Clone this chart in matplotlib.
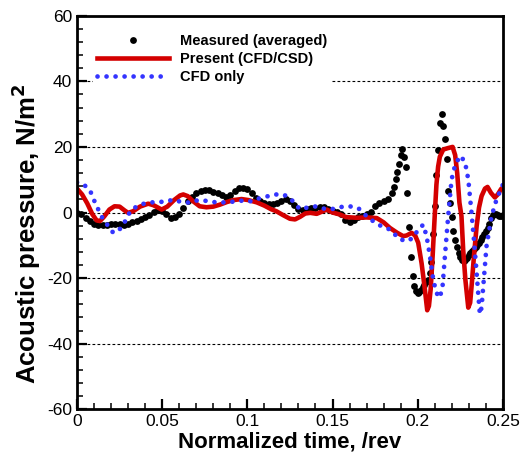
import numpy as np
import matplotlib
matplotlib.use("Agg")
import matplotlib.pyplot as plt
from matplotlib.ticker import MultipleLocator, FormatStrFormatter

plt.rcParams['font.family'] = ['Liberation Sans', 'DejaVu Sans']
plt.rcParams['axes.unicode_minus'] = False

# measured (averaged) - coarse step first, finer step where it swings fast
meas_t = list(np.round(np.arange(0, 0.1826, 0.0025), 4)) + list(np.round(np.arange(0.185, 0.2501, 0.001), 3))
meas_p = [0.0, -0.6, -1.6, -2.7, -3.4, -3.8, -3.8, -3.7, -3.5, -3.4,
          -3.6, -3.7, -3.5, -3.0, -2.5, -2.0, -1.4, -0.7, 0.2, 0.9,
          0.6, -0.6, -1.6, -1.3, -0.4, 1.5, 3.5, 4.8, 5.8, 6.5,
          6.9, 6.9, 6.3, 5.8, 5.2, 4.8, 5.3, 6.5, 7.4, 7.5,
          7.1, 6.0, 4.5, 3.4, 2.9, 2.7, 2.6, 3.0, 3.6, 4.0,
          3.4, 2.2, 1.2, 0.9, 1.0, 1.3, 1.5, 1.8, 1.8, 1.2,
          0.5, 0.3, -0.6, -2.2, -2.8, -2.3, -1.4, -1.0, -0.5, 0.3,
          2.0, 2.8, 3.4, 4.2,
          5.8, 7.8, 10.2, 12.5, 14.8, 17.5, 19.5, 17.0, 14.0, 6.0,
          -4.5, -13.5, -19.5, -22.5, -24.0, -24.5, -24.3, -23.5, -22.6, -22.0,
          -21.3, -20.6, -18.5, -15.0, -6.5, 2.0, 11.5, 19.0, 27.3, 29.9,
          26.3, 22.3, 16.2, 6.5, 3.0, -1.5, -5.5, -8.3, -10.6, -12.2,
          -13.5, -14.4, -14.8, -14.5, -13.8, -13.1, -12.3, -11.6, -11.0, -10.5,
          -10.0, -9.4, -8.4, -7.5, -6.6, -5.6, -4.6, -3.5, -1.8, -0.9,
          -0.6, -0.6, -0.8, -1.0, -1.1, -0.8]

# present (CFD/CSD)
cfdcsd_t = [0.0, 0.003, 0.006, 0.009, 0.0115, 0.0135, 0.016, 0.019, 0.022, 0.025,
            0.028, 0.030, 0.033, 0.037, 0.0418, 0.045, 0.0497, 0.053, 0.057, 0.0605,
            0.0624, 0.065, 0.068, 0.072, 0.076, 0.080, 0.0839, 0.088, 0.092, 0.0966,
            0.1005, 0.1055, 0.110, 0.114, 0.117, 0.121, 0.125, 0.128, 0.131, 0.134,
            0.137, 0.1407, 0.1435, 0.1466, 0.150, 0.1543, 0.158, 0.164, 0.170, 0.176,
            0.180, 0.1837, 0.188, 0.1915, 0.1935, 0.1964, 0.1985, 0.2003, 0.2023, 0.2040,
            0.2056, 0.2066, 0.2076, 0.2088, 0.2100, 0.2110, 0.2120, 0.2130, 0.2150, 0.2175,
            0.2205, 0.2220, 0.2232, 0.2245, 0.2257, 0.2267, 0.2280, 0.2297, 0.2308, 0.2318,
            0.2330, 0.2346, 0.2360, 0.2375, 0.2395, 0.2410, 0.2430, 0.2453, 0.2470, 0.2490,
            0.2500]
cfdcsd_p = [7.3, 5.5, 2.8, -0.5, -2.4, -2.6, -1.2, 0.9, 1.9, 1.8,
            0.6, -0.1, 0.4, 1.8, 2.7, 2.2, 0.9, 1.8, 3.8, 5.2,
            5.5, 5.0, 3.5, 1.9, 1.6, 1.8, 2.4, 3.2, 3.8, 4.1,
            3.8, 3.1, 2.1, 1.0, 0.4, -0.8, -1.9, -2.1, -1.3, -0.3,
            -0.1, -0.4, 0.2, 0.9, 0.0, -0.6, -1.4, -1.6, -1.5, -1.7,
            -3.0, -4.7, -6.2, -7.2, -7.0, -6.2, -7.0, -9.2, -15.5, -22.5,
            -29.8, -28.5, -23.5, -13.0, -1.0, 8.5, 14.0, 17.0, 19.2, 19.6,
            20.0, 17.5, 12.0, 3.0, -1.1, -11.3, -20.5, -29.0, -27.5, -21.5,
            -13.5, -4.2, 1.5, 5.0, 7.3, 7.8, 6.0, 4.6, 5.5, 7.2,
            7.6]

# CFD only
cfd_t = [0.0, 0.004, 0.0076, 0.0106, 0.0145, 0.0184, 0.0213, 0.024, 0.0262, 0.0282,
         0.030, 0.0321, 0.037, 0.0418, 0.0468, 0.0516, 0.0565, 0.0614, 0.0663, 0.0712,
         0.0751, 0.0800, 0.0839, 0.0890, 0.0937, 0.0980, 0.1025, 0.1074, 0.1123, 0.1162,
         0.121, 0.125, 0.128, 0.1309, 0.1340, 0.1367, 0.1407, 0.1455, 0.1504, 0.1553,
         0.160, 0.165, 0.171, 0.1768, 0.1837, 0.1896, 0.1944, 0.1975, 0.2003, 0.2033,
         0.2052, 0.2072, 0.2091, 0.2110, 0.2130, 0.2146, 0.2160, 0.2179, 0.2199, 0.2218,
         0.2248, 0.2277, 0.2297, 0.2316, 0.2330, 0.2346, 0.2358, 0.2365, 0.2375, 0.2385,
         0.2404, 0.2434, 0.2463, 0.2500]
cfd_p = [9.2, 8.5, 6.8, 3.0, -1.3, -4.2, -6.2, -5.6, -4.5, -2.7,
         -0.8, 0.9, 2.4, 3.0, 3.2, 3.3, 3.9, 3.2, 3.0, 3.8,
         3.6, 3.2, 3.0, 3.2, 3.4, 3.7, 3.4, 4.4, 5.0, 5.5,
         5.5, 4.5, 2.6, 1.0, 1.4, 1.6, 1.9, 1.1, 1.1, 1.7,
         1.9, 1.4, -1.6, -3.7, -5.2, -8.2, -8.7, -7.5, -5.2, -3.7,
         -7.2, -13.3, -20.4, -24.5, -26.0, -22.5, -13.3, -1.1, 10.1, 14.1,
         17.3, 15.6, 10.1, -0.1, -8.2, -18.4, -26.5, -31.0, -29.0, -22.5,
         -10.3, -1.1, 4.0, 8.5]

fig = plt.figure(figsize=(5.26, 4.63), dpi=100)
ax = fig.add_axes([0.1464, 0.116, 0.8096, 0.85])

ax.plot(meas_t, meas_p, 'o', color='black', markersize=4.9, markeredgewidth=0,
        label='Measured (averaged)')
ax.plot(cfdcsd_t, cfdcsd_p, '-', color='#d40000', linewidth=3.3, label='Present (CFD/CSD)')
ax.plot(cfd_t, cfd_p, color='#3434ff', linewidth=3.4, linestyle=(0, (0.01, 1.9)),
        dash_capstyle='round', label='CFD only')

ax.set_xlim(0, 0.25)
ax.set_ylim(-60, 60)
ax.xaxis.set_major_locator(MultipleLocator(0.05))
ax.xaxis.set_minor_locator(MultipleLocator(0.01))
ax.yaxis.set_major_locator(MultipleLocator(20))
ax.yaxis.set_minor_locator(MultipleLocator(4))
ax.xaxis.set_major_formatter(FormatStrFormatter('%g'))

# dotted gridlines on y only
ax.set_axisbelow(True)
ax.yaxis.grid(True, color='black', linestyle=(0, (2.5, 2)), linewidth=0.8)

ax.tick_params(which='both', direction='in', top=False, right=False, labelsize=12.5)
ax.tick_params(which='major', length=7, width=1.6)
ax.tick_params(which='minor', length=4.3, width=1.1)
for s in ax.spines.values():
    s.set_linewidth(2)

ax.set_xlabel('Normalized time, /rev', fontsize=16, fontweight='bold', labelpad=2)
ax.set_ylabel('Acoustic pressure, N/m$^{\\mathbf{2}}$', fontsize=18.5, fontweight='bold')
ax.yaxis.set_label_coords(-0.08, 0.447)

leg = ax.legend(loc='upper left', bbox_to_anchor=(0.02, 0.982),
                handlelength=4.9, handletextpad=0.75, labelspacing=0.26,
                borderpad=0.3, frameon=True, fancybox=False, framealpha=1,
                facecolor='white', edgecolor='none', prop={'weight': 'bold', 'size': 10.5})

fig.savefig('out.png', dpi=100)
